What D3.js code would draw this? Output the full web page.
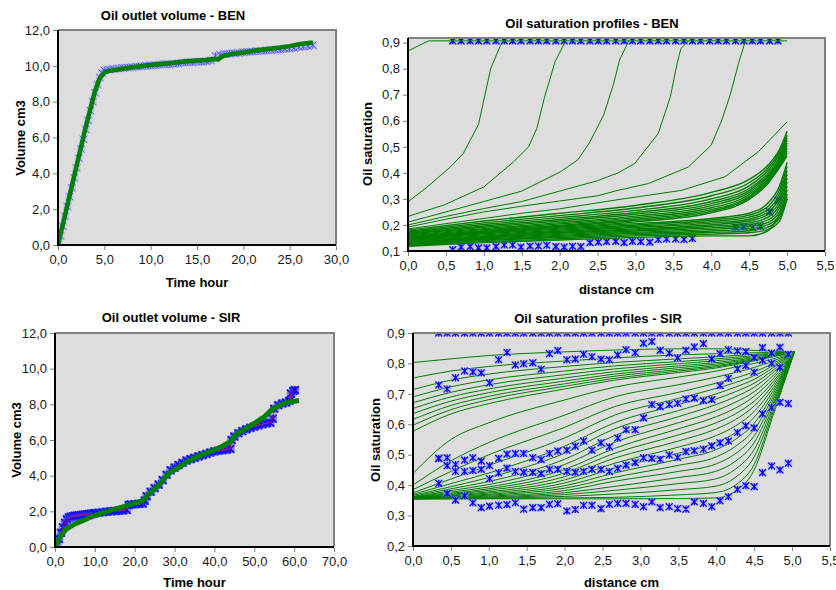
<!DOCTYPE html>
<html>
<head>
<meta charset="utf-8">
<script src="https://cdn.jsdelivr.net/npm/d3@7"></script>
<style>
body{margin:0;background:#fff;}
text{font-family:Arial,"Liberation Sans",sans-serif;}
</style>
</head>
<body>
<svg id="chart" width="836" height="590"></svg>
<script>
// ---- outlet volume, BEN ----
var benMeas = [[0,0],[0.25,0.5],[0.5,1.05],[0.75,1.6],[1,2.15],[1.25,2.7],[1.5,3.2],[1.75,3.75],[2,4.3],[2.25,4.85],[2.5,5.35],[2.75,5.9],[3,6.45],[3.25,6.95],[3.5,7.5],[3.75,8.0],[4,8.5],[4.25,8.95],[4.5,9.35],[4.75,9.6],[5,9.75],[5.5,9.8],[6,9.82],[6.5,9.86],[7,9.88],[7.5,9.9],[8,9.93],[8.5,9.95],[9,9.97],[9.5,10.0],[10,10.02],[10.5,10.04],[11,10.06],[11.5,10.1],[12,10.08],[12.5,10.12],[13,10.14],[13.5,10.18],[14,10.2],[14.5,10.2],[15,10.24],[15.5,10.22],[16,10.25],[16.5,10.3],[17,10.55],[17.5,10.62],[18,10.65],[18.5,10.68],[19,10.7],[19.5,10.72],[20,10.76],[20.5,10.78],[21,10.8],[21.5,10.82],[22,10.84],[22.5,10.86],[23,10.88],[23.5,10.9],[24,10.92],[24.5,10.95],[25,10.97],[25.5,11.0],[26,11.05],[26.5,11.08],[27,11.1],[27.5,11.15]];
var benSim = [[0,0],[1,2.2],[2,4.4],[3,6.6],[4,8.6],[4.5,9.3],[5,9.62],[5.5,9.72],[6.5,9.8],[8,9.92],[10,10.05],[12,10.15],[14,10.25],[16,10.33],[16.8,10.38],[17.3,10.36],[17.8,10.55],[19,10.68],[20,10.75],[22,10.9],[24,11.02],[25,11.1],[26,11.2],[27.5,11.3]];

// ---- outlet volume, SIR ----
var sirMeas = [[0.5,0.1],[1,0.45],[1.5,0.8],[2,1.1],[2.5,1.35],[3,1.55],[3.5,1.65],[4,1.7],[4.5,1.72],[5,1.75],[5.5,1.76],[6,1.78],[6.5,1.79],[7,1.8],[7.5,1.82],[8,1.83],[8.5,1.85],[9,1.86],[9.5,1.88],[10,1.9],[11,1.92],[12,1.95],[13,1.98],[14,2.0],[15,2.02],[16,2.03],[17,2.05],[18,2.08],[18.5,2.35],[19,2.38],[20,2.4],[21,2.42],[22,2.43],[22.5,2.6],[23,2.85],[24,3.1],[25,3.3],[26,3.5],[27,3.75],[28,4.05],[29,4.3],[30,4.45],[31,4.6],[32,4.72],[33,4.85],[34,4.93],[35,5.0],[36,5.08],[37,5.15],[38,5.22],[39,5.3],[40,5.36],[41,5.4],[42,5.43],[43,5.45],[44,5.5],[44.3,6.0],[45,6.2],[46,6.38],[47,6.5],[48,6.6],[49,6.68],[50,6.75],[51,6.82],[52,6.88],[53,6.93],[54,6.97],[54.6,7.2],[55,7.75],[56,7.95],[57,8.05],[58,8.1],[58.8,8.2],[59.2,8.6],[59.8,8.75],[60.2,8.8]];
var sirSim = [[0,0.05],[1,0.45],[2,0.8],[3,1.03],[5,1.3],[7.2,1.5],[9,1.68],[11.3,1.87],[14,2.05],[17,2.25],[19.7,2.43],[22.2,2.62],[23.4,2.95],[25,3.25],[26.4,3.55],[28,4.0],[29,4.2],[31,4.45],[33,4.77],[36,5.1],[39.7,5.42],[42,5.65],[43.9,5.89],[45,6.2],[46.4,6.45],[48,6.65],[50.5,7.0],[52.5,7.3],[54.7,7.76],[57.2,8.04],[59,8.15],[61.2,8.22]];

// ---- saturation profiles, BEN ----
var benFronts = [
  [[0,0.868],[0.27,0.907],[5.0,0.907]],
  [[0,0.289],[0.25,0.345],[0.56,0.423],[0.73,0.475],[0.93,0.586],[1.09,0.80],[1.22,0.89],[1.28,0.907]],
  [[0,0.233],[0.47,0.276],[1.0,0.346],[1.39,0.442],[1.59,0.50],[1.70,0.571],[1.80,0.69],[1.94,0.827],[2.08,0.907]],
  [[0,0.211],[0.5,0.25],[1.0,0.29],[1.5,0.33],[2.01,0.404],[2.24,0.45],[2.40,0.519],[2.58,0.622],[2.71,0.74],[2.79,0.833],[2.91,0.907]],
  [[0,0.20],[0.5,0.233],[1.0,0.263],[1.5,0.29],[2.0,0.33],[2.5,0.37],[2.77,0.40],[2.99,0.436],[3.30,0.551],[3.46,0.692],[3.55,0.821],[3.60,0.878],[3.70,0.907]],
  [[0,0.192],[0.5,0.222],[1.0,0.25],[1.5,0.272],[2.0,0.292],[2.5,0.312],[2.77,0.333],[3.17,0.359],[3.70,0.423],[4.0,0.507],[4.14,0.603],[4.25,0.70],[4.36,0.821],[4.45,0.907]],
  [[0,0.185],[0.5,0.205],[1.0,0.225],[1.5,0.245],[2.0,0.262],[2.72,0.295],[3.61,0.333],[4.18,0.385],[4.62,0.481],[5.0,0.596]]
];
var benLateX = [0, 1, 2, 3, 4, 4.5, 4.75, 4.9, 5.0];
var benLate = [
  [0.180,0.215,0.245,0.275,0.325,0.375,0.43,0.49,0.56],
  [0.176,0.208,0.236,0.265,0.312,0.362,0.42,0.48,0.545],
  [0.172,0.202,0.228,0.256,0.300,0.350,0.41,0.47,0.535],
  [0.168,0.196,0.221,0.248,0.290,0.340,0.40,0.46,0.525],
  [0.165,0.191,0.215,0.241,0.282,0.332,0.392,0.452,0.515],
  [0.162,0.186,0.209,0.234,0.274,0.324,0.385,0.445,0.505],
  [0.159,0.182,0.204,0.228,0.266,0.317,0.378,0.438,0.495],
  [0.156,0.178,0.199,0.222,0.259,0.310,0.372,0.432,0.485],
  [0.154,0.175,0.195,0.217,0.253,0.304,0.366,0.427,0.475],
  [0.152,0.172,0.191,0.212,0.247,0.298,0.36,0.42,0.465],
  [0.150,0.170,0.188,0.205,0.225,0.245,0.285,0.35,0.44],
  [0.147,0.166,0.184,0.200,0.219,0.238,0.272,0.335,0.425],
  [0.144,0.162,0.180,0.195,0.213,0.230,0.260,0.32,0.41],
  [0.141,0.158,0.176,0.190,0.207,0.222,0.250,0.305,0.395],
  [0.138,0.155,0.172,0.185,0.201,0.215,0.240,0.29,0.38],
  [0.135,0.152,0.168,0.181,0.195,0.208,0.230,0.277,0.365],
  [0.132,0.149,0.164,0.177,0.189,0.201,0.220,0.264,0.35],
  [0.129,0.146,0.160,0.172,0.183,0.194,0.210,0.25,0.335],
  [0.126,0.143,0.156,0.168,0.177,0.186,0.201,0.238,0.32],
  [0.123,0.140,0.152,0.163,0.171,0.178,0.192,0.226,0.31],
  [0.120,0.136,0.147,0.158,0.165,0.170,0.183,0.215,0.30],
  [0.118,0.132,0.142,0.152,0.158,0.158,0.178,0.24,0.30]
];
var benStarX = [0.59,0.70,0.82,0.93,1.04,1.16,1.27,1.38,1.49,1.61,1.72,1.83,1.95,2.06,2.17,2.28,2.40,2.51,2.62,2.74,2.85,2.96,3.07,3.19,3.30,3.41,3.53,3.64,3.75,3.86,3.98,4.09,4.20,4.32,4.43,4.54,4.65,4.77,4.88];
var benStarRows = [
  [0.907,0.907,0.907,0.907,0.907,0.907,0.907,0.907,0.907,0.907,0.907,0.907,0.907,0.907,0.907,0.907,0.907,0.907,0.907,0.907,0.907,0.907,0.907,0.907,0.907,0.907,0.907,0.907,0.907,0.907,0.907,0.907,0.907,0.907,0.907,0.907,0.907,0.907,0.907],
  [0.105,0.115,0.117,0.112,0.112,0.117,0.123,0.123,0.115,0.119,0.119,0.122,0.117,0.115,0.118,0.117,0.132,0.134,0.136,0.137,0.132,0.137,0.136,0.134,0.144,0.146,0.146,0.144,0.148,null,null,null,null,0.192,0.193,0.19,0.195,0.25,0.295]
];

// ---- saturation profiles, SIR ----
var sirProfX = [0, 0.5, 1, 2, 2.66, 3.5, 4, 4.25, 4.5, 4.75, 5.03];
var sirInit = [[0,0.9],[0.18,0.9]];
var sirUpper = [
  [0.803,0.815,0.826,0.838,0.844,0.848,0.848,0.846,0.843,0.840,0.837],
  [0.752,0.775,0.790,0.808,0.818,0.828,0.832,0.834,0.835,0.836,0.837],
  [0.714,0.745,0.765,0.790,0.803,0.815,0.822,0.826,0.830,0.833,0.837],
  [0.690,0.723,0.746,0.775,0.792,0.806,0.815,0.820,0.826,0.831,0.837],
  [0.671,0.705,0.730,0.763,0.782,0.799,0.809,0.815,0.822,0.829,0.837],
  [0.652,0.690,0.716,0.752,0.773,0.792,0.803,0.810,0.818,0.827,0.837],
  [0.635,0.676,0.704,0.742,0.765,0.786,0.798,0.806,0.815,0.825,0.837],
  [0.616,0.662,0.692,0.733,0.758,0.780,0.793,0.802,0.812,0.824,0.837],
  [0.597,0.648,0.681,0.725,0.751,0.775,0.789,0.799,0.810,0.823,0.837],
  [0.577,0.634,0.668,0.716,0.745,0.770,0.785,0.796,0.808,0.822,0.837]
];
var sirLower = [
  [0.438,0.550,0.605,0.680,0.722,0.755,0.775,0.788,0.800,0.815,0.837],
  [0.400,0.480,0.540,0.630,0.690,0.730,0.755,0.770,0.787,0.808,0.837],
  [0.385,0.445,0.500,0.590,0.658,0.705,0.735,0.752,0.772,0.800,0.837],
  [0.375,0.420,0.465,0.555,0.630,0.685,0.718,0.737,0.760,0.793,0.837],
  [0.370,0.405,0.440,0.528,0.605,0.665,0.700,0.722,0.748,0.786,0.837],
  [0.366,0.395,0.425,0.505,0.585,0.645,0.683,0.707,0.735,0.778,0.837],
  [0.363,0.388,0.412,0.485,0.563,0.625,0.665,0.690,0.722,0.770,0.837],
  [0.361,0.382,0.402,0.468,0.541,0.605,0.645,0.672,0.707,0.760,0.837],
  [0.360,0.377,0.394,0.452,0.521,0.585,0.625,0.653,0.692,0.750,0.837],
  [0.359,0.373,0.388,0.440,0.505,0.565,0.605,0.634,0.676,0.740,0.837],
  [0.358,0.370,0.383,0.428,0.489,0.545,0.585,0.615,0.660,0.730,0.837],
  [0.357,0.367,0.378,0.417,0.472,0.525,0.563,0.594,0.642,0.720,0.837],
  [0.357,0.365,0.374,0.407,0.456,0.505,0.540,0.572,0.623,0.710,0.837],
  [0.356,0.363,0.370,0.398,0.440,0.485,0.517,0.550,0.603,0.700,0.837],
  [0.356,0.361,0.367,0.390,0.426,0.465,0.493,0.527,0.583,0.690,0.837],
  [0.356,0.360,0.364,0.382,0.413,0.445,0.470,0.503,0.562,0.680,0.837],
  [0.355,0.358,0.361,0.375,0.396,0.425,0.446,0.478,0.540,0.670,0.837],
  [0.355,0.357,0.359,0.369,0.383,0.405,0.421,0.452,0.517,0.660,0.837],
  [0.355,0.356,0.357,0.363,0.371,0.385,0.397,0.425,0.493,0.650,0.837],
  [0.355,0.355,0.356,0.358,0.360,0.368,0.376,0.400,0.468,0.640,0.837],
  [0.355,0.355,0.355,0.355,0.355,0.356,0.358,0.380,0.450,0.630,0.837]
];
var sirStarX = [0.34,0.45,0.56,0.68,0.79,0.90,1.01,1.13,1.24,1.35,1.46,1.58,1.69,1.80,1.91,2.03,2.14,2.25,2.36,2.48,2.59,2.70,2.81,2.93,3.04,3.15,3.26,3.38,3.49,3.60,3.71,3.83,3.94,4.05,4.16,4.28,4.39,4.50,4.61,4.73,4.84,4.95];
var sirStarRows = [
  [0.9,0.9,0.9,0.9,0.9,0.9,0.9,0.9,0.9,0.9,0.9,0.9,0.9,0.9,0.9,0.9,0.9,0.9,0.9,0.9,0.9,0.9,0.9,0.9,0.9,0.9,0.9,0.9,0.9,0.9,0.9,0.9,0.9,0.9,0.9,0.9,0.9,0.9,0.9,0.9,0.9,0.9],
  [0.729,0.716,0.753,0.775,0.772,0.769,0.736,0.812,0.836,0.795,0.799,0.802,0.781,0.832,0.842,0.812,0.814,0.830,0.822,0.814,0.812,0.828,0.845,0.835,0.866,0.872,0.843,0.834,0.818,0.843,0.854,0.865,0.815,0.832,0.845,0.841,0.839,0.819,0.852,0.834,0.853,0.830],
  [0.488,0.490,0.468,0.482,0.490,0.479,0.464,0.488,0.502,0.504,0.504,0.490,0.484,0.504,0.512,0.515,0.528,0.545,0.515,0.539,0.526,0.555,0.582,0.582,0.621,0.665,0.658,0.665,0.669,0.683,0.686,0.678,0.681,0.727,0.751,0.782,0.793,0.771,0.810,0.800,0.787,null],
  [0.488,0.464,0.445,0.445,0.448,0.452,0.421,0.440,0.456,0.445,0.442,0.442,0.438,0.452,0.452,0.445,0.442,0.445,0.452,0.452,0.445,0.455,0.466,0.474,0.490,0.488,0.485,0.499,0.491,0.510,0.513,0.518,0.529,0.539,0.545,0.573,0.595,0.588,0.441,0.463,0.450,0.472],
  [0.406,0.373,0.351,0.365,0.342,0.326,0.331,0.334,0.336,0.342,0.321,0.326,0.326,0.337,0.339,0.315,0.320,0.334,0.334,0.323,0.337,0.340,0.340,0.337,0.329,0.345,0.326,0.329,0.323,0.321,0.345,0.340,0.329,0.349,0.362,0.386,0.398,0.395,null,null,null,null],
  [null,null,null,null,null,null,null,null,null,null,null,null,null,null,null,null,null,null,null,null,null,null,null,null,null,null,null,null,null,null,null,null,null,null,null,null,null,null,0.634,0.655,0.672,0.668]
];

// ---- tick labels ----
var benTimeTicks = [0, 5, 10, 15, 20, 25, 30];
var sirTimeTicks = [0, 10, 20, 30, 40, 50, 60, 70];
var volTicks = [0, 2, 4, 6, 8, 10, 12];
var distTicks = [0, 0.5, 1, 1.5, 2, 2.5, 3, 3.5, 4, 4.5, 5, 5.5];
var benSatTicks = [0.1, 0.2, 0.3, 0.4, 0.5, 0.6, 0.7, 0.8, 0.9];
var sirSatTicks = [0.2, 0.3, 0.4, 0.5, 0.6, 0.7, 0.8, 0.9];

var svg = d3.select('#chart');
var fmt = function(d){ return d3.format('.1f')(d).replace('.', ','); };
var clipN = 0;
var GREEN = '#007f00';
var starPath = function(s){
  return 'M0,' + (-s) + 'V' + s + 'M' + (-s) + ',' + (-s) + 'L' + s + ',' + s + 'M' + (-s) + ',' + s + 'L' + s + ',' + (-s);
};

function panel(o, draw) {
  var x = d3.scaleLinear().domain(o.xDom).range([o.left, o.right]);
  var y = d3.scaleLinear().domain(o.yDom).range([o.bottom, o.top]);
  var g = svg.append('g');
  var w = o.right - o.left, h = o.bottom - o.top;
  g.append('rect').attr('x', o.left).attr('y', o.top).attr('width', w).attr('height', h)
    .attr('fill', '#dddddd');
  var id = 'clip' + (clipN++);
  svg.append('clipPath').attr('id', id).append('rect')
    .attr('x', o.left).attr('y', o.top).attr('width', w).attr('height', h);
  var plot = g.append('g').attr('clip-path', 'url(#' + id + ')');
  draw(plot, x, y);

  // frame: grey top/right, black left/bottom
  g.append('path').attr('d', 'M' + o.left + ',' + o.top + 'H' + o.right + 'V' + o.bottom)
    .attr('fill', 'none').attr('stroke', '#808080').attr('stroke-width', 2);
  g.append('path').attr('d', 'M' + o.left + ',' + o.top + 'V' + o.bottom + 'H' + o.right)
    .attr('fill', 'none').attr('stroke', '#000').attr('stroke-width', 2);

  var xAxis = d3.axisBottom(x).tickValues(o.xTicks).tickFormat(fmt)
    .tickSizeInner(4).tickSizeOuter(0).tickPadding(5);
  var yAxis = d3.axisLeft(y).tickValues(o.yTicks).tickFormat(fmt)
    .tickSizeInner(4).tickSizeOuter(0).tickPadding(3);
  var xg = g.append('g').attr('transform', 'translate(0,' + (o.bottom + 1) + ')').call(xAxis);
  var yg = g.append('g').attr('transform', 'translate(' + (o.left - 1) + ',0)').call(yAxis);
  [xg, yg].forEach(function(a){
    a.select('.domain').remove();
    a.selectAll('line').attr('stroke', '#808080');
    a.selectAll('text').attr('fill', '#1a1a1a').style('font-size', '13px')
      .style('font-family', 'Arial, "Liberation Sans", sans-serif');
  });

  g.append('text').attr('x', o.titleX).attr('y', o.titleY).attr('text-anchor', 'middle')
    .style('font-size', '13px').style('font-weight', 'bold').text(o.title);
  g.append('text').attr('x', (o.left + o.right) / 2 + o.xLabDx).attr('y', o.xLabY)
    .attr('text-anchor', 'middle').attr('dy', '0.35em')
    .style('font-size', '13px').style('font-weight', 'bold').text(o.xLabel);
  g.append('text').attr('transform', 'translate(' + o.yLabX + ',' + o.yLabY + ') rotate(-90)')
    .attr('text-anchor', 'middle').attr('dy', '0.35em')
    .style('font-size', '13px').style('font-weight', 'bold').text(o.yLabel);
}

function stars(plot, x, y, pts, s, color, width, halo, haloOp) {
  var m = plot.append('g').selectAll('g').data(pts).enter().append('g')
    .attr('transform', function(d){ return 'translate(' + x(d[0]) + ',' + y(d[1]) + ')'; });
  if (halo) {
    m.append('rect').attr('x', -s - 0.5).attr('y', -s - 0.5)
      .attr('width', 2 * s + 1).attr('height', 2 * s + 1)
      .attr('fill', halo).attr('opacity', haloOp);
  }
  m.append('path').attr('d', starPath(s)).attr('stroke', color)
    .attr('stroke-width', width).attr('fill', 'none');
}

function rowPoints(xs, vals) {
  var out = [];
  vals.forEach(function(v, i){ if (v !== null) out.push([xs[i], v]); });
  return out;
}

// top-left: BEN outlet volume
panel({left:58, right:336, top:30, bottom:245, xDom:[0,30], yDom:[0,12],
  xTicks:benTimeTicks, yTicks:volTicks, title:'Oil outlet volume - BEN', titleX:173, titleY:20,
  xLabel:'Time hour', xLabDx:0, xLabY:282, yLabel:'Volume cm3', yLabX:20, yLabY:138},
  function(plot, x, y){
    stars(plot, x, y, benMeas, 3.6, '#4646ff', 0.9, '#8c8cff', 0.25);
    var line = d3.line().x(function(d){ return x(d[0]); }).y(function(d){ return y(d[1]); });
    plot.append('path').attr('d', line(benSim)).attr('fill', 'none')
      .attr('stroke', GREEN).attr('stroke-width', 4.5).attr('stroke-linejoin', 'round');
  });

// top-right: BEN profiles
panel({left:408, right:825, top:38, bottom:251, xDom:[0,5.5], yDom:[0.1,0.918],
  xTicks:distTicks, yTicks:benSatTicks, title:'Oil saturation profiles - BEN', titleX:592, titleY:28,
  xLabel:'distance cm', xLabDx:0, xLabY:289, yLabel:'Oil saturation', yLabX:367, yLabY:144},
  function(plot, x, y){
    var line = d3.line().x(function(d){ return x(d[0]); }).y(function(d){ return y(d[1]); });
    var mono = d3.line().curve(d3.curveMonotoneX).x(function(d){ return x(d[0]); }).y(function(d){ return y(d[1]); });
    benStarRows.forEach(function(r){
      stars(plot, x, y, rowPoints(benStarX, r), 3.4, '#0000ff', 1.2, '#9c9cf4', 0.5);
    });
    benFronts.forEach(function(c){
      plot.append('path').attr('d', line(c)).attr('fill', 'none')
        .attr('stroke', GREEN).attr('stroke-width', 1);
    });
    benLate.forEach(function(v){
      plot.append('path').attr('d', mono(v.map(function(d, i){ return [benLateX[i], d]; })))
        .attr('fill', 'none').attr('stroke', GREEN).attr('stroke-width', 1.4);
    });
  });

// bottom-left: SIR outlet volume
panel({left:55, right:334, top:333, bottom:547, xDom:[0,70], yDom:[0,12],
  xTicks:sirTimeTicks, yTicks:volTicks, title:'Oil outlet volume - SIR', titleX:171, titleY:322,
  xLabel:'Time hour', xLabDx:0, xLabY:582, yLabel:'Volume cm3', yLabX:16, yLabY:440},
  function(plot, x, y){
    var line = d3.line().x(function(d){ return x(d[0]); }).y(function(d){ return y(d[1]); });
    stars(plot, x, y, sirMeas, 3.8, '#0000ff', 1.4, '#4040f0', 0.6);
    plot.append('path').attr('d', line(sirMeas)).attr('fill', 'none')
      .attr('stroke', '#ff0000').attr('stroke-width', 0.8);
    plot.append('path').attr('d', line(sirSim)).attr('fill', 'none')
      .attr('stroke', GREEN).attr('stroke-width', 5).attr('stroke-linejoin', 'round');
  });

// bottom-right: SIR profiles
panel({left:413, right:830, top:333, bottom:546, xDom:[0,5.5], yDom:[0.2,0.9],
  xTicks:distTicks, yTicks:sirSatTicks, title:'Oil saturation profiles - SIR', titleX:598, titleY:323,
  xLabel:'distance cm', xLabDx:0, xLabY:582, yLabel:'Oil saturation', yLabX:375, yLabY:440},
  function(plot, x, y){
    var line = d3.line().x(function(d){ return x(d[0]); }).y(function(d){ return y(d[1]); });
    var mono = d3.line().curve(d3.curveMonotoneX).x(function(d){ return x(d[0]); }).y(function(d){ return y(d[1]); });
    plot.append('path').attr('d', line(sirInit)).attr('fill', 'none')
      .attr('stroke', GREEN).attr('stroke-width', 2);
    sirUpper.concat(sirLower).forEach(function(v){
      plot.append('path').attr('d', mono(v.map(function(d, i){ return [sirProfX[i], d]; })))
        .attr('fill', 'none').attr('stroke', GREEN).attr('stroke-width', 1);
    });
    sirStarRows.forEach(function(r){
      stars(plot, x, y, rowPoints(sirStarX, r), 3.4, '#0000ff', 1.2, '#9c9cf4', 0.5);
    });
  });
</script>
</body>
</html>
